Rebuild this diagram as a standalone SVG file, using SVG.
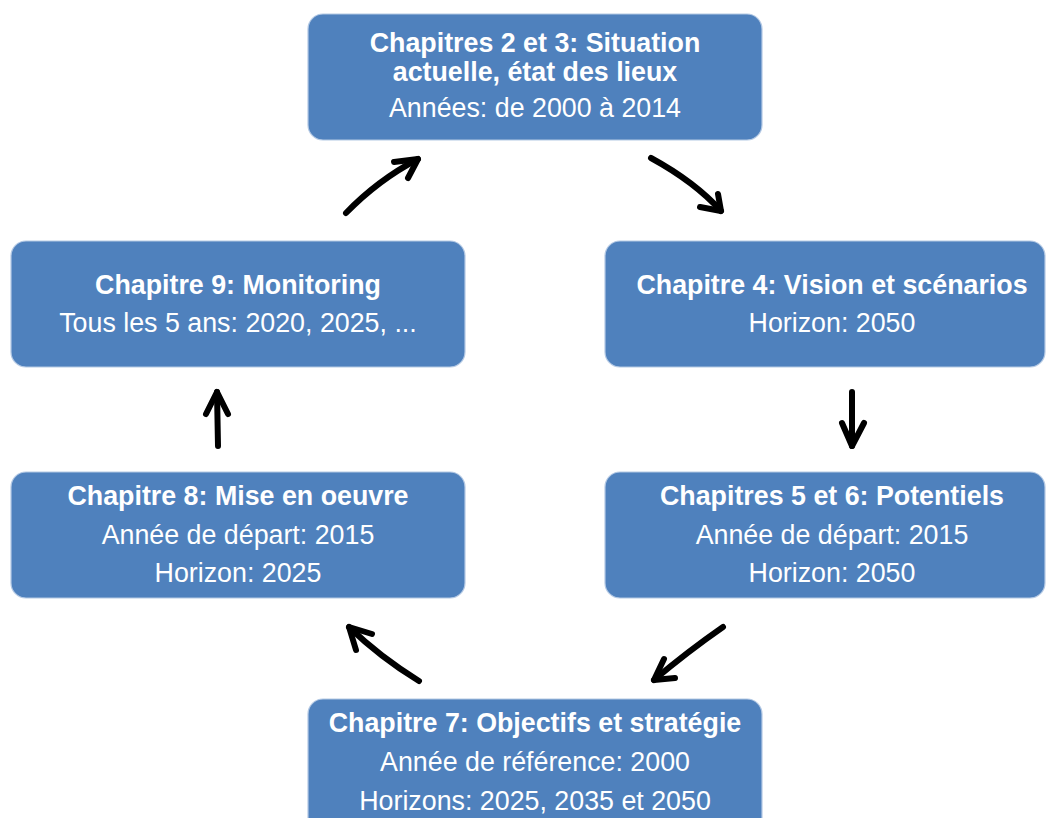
<svg xmlns="http://www.w3.org/2000/svg" width="1046" height="818" viewBox="0 0 1046 818">
<style>
.box{fill:#4F81BD;stroke:#B4C9E4;stroke-width:1.2}
.t{font-family:"Liberation Sans",Arial,sans-serif;font-size:26.8px;fill:#fff;text-anchor:middle}
.b{font-weight:bold}
.a{fill:none;stroke:#000;stroke-width:6;stroke-linecap:round;stroke-linejoin:round}
</style>
<rect width="1046" height="818" fill="#fff"/>
<g id="n1"><rect class="box" x="308" y="14" width="454" height="126" rx="15"/>
<text class="t b" x="535" y="52">Chapitres 2 et 3: Situation</text>
<text class="t b" x="535" y="81">actuelle, état des lieux</text>
<text class="t" x="535" y="117">Années: de 2000 à 2014</text></g>
<g id="n2"><rect class="box" x="605" y="241" width="440" height="126" rx="15"/>
<text class="t b" x="832" y="294">Chapitre 4: Vision et scénarios</text>
<text class="t" x="832" y="332">Horizon: 2050</text></g>
<g id="n3"><rect class="box" x="605" y="472" width="440" height="126" rx="15"/>
<text class="t b" x="832" y="505">Chapitres 5 et 6: Potentiels</text>
<text class="t" x="832" y="544">Année de départ: 2015</text>
<text class="t" x="832" y="582">Horizon: 2050</text></g>
<g id="n4"><rect class="box" x="308" y="699" width="454" height="140" rx="15"/>
<text class="t b" x="535" y="732">Chapitre 7: Objectifs et stratégie</text>
<text class="t" x="535" y="771">Année de référence: 2000</text>
<text class="t" x="535" y="810">Horizons: 2025, 2035 et 2050</text></g>
<g id="n5"><rect class="box" x="11" y="472" width="454" height="126" rx="15"/>
<text class="t b" x="238" y="505">Chapitre 8: Mise en oeuvre</text>
<text class="t" x="238" y="544">Année de départ: 2015</text>
<text class="t" x="238" y="582">Horizon: 2025</text></g>
<g id="n6"><rect class="box" x="11" y="241" width="454" height="126" rx="15"/>
<text class="t b" x="238" y="294">Chapitre 9: Monitoring</text>
<text class="t" x="238" y="332">Tous les 5 ans: 2020, 2025, ...</text></g>
<g id="connectors">
<path class="a" d="M346 213 Q378 180 418 159"/>
<path class="a" d="M394 162 L418 159 L408 178"/>
<path class="a" d="M651 158 Q695 182 721 211"/>
<path class="a" d="M700 207 L721 211 L718 194"/>
<path class="a" d="M852 392 L852 446"/>
<path class="a" d="M842 423 L852 446 L864 423"/>
<path class="a" d="M723 627 Q687 652 654 680"/>
<path class="a" d="M664 659 L654 680 L675 678"/>
<path class="a" d="M419 681 Q380 657 349 627"/>
<path class="a" d="M372 634 L349 627 L356 650"/>
<path class="a" d="M218 446 L217 392"/>
<path class="a" d="M206 414 L217 392 L228 414"/>
</g>
</svg>
